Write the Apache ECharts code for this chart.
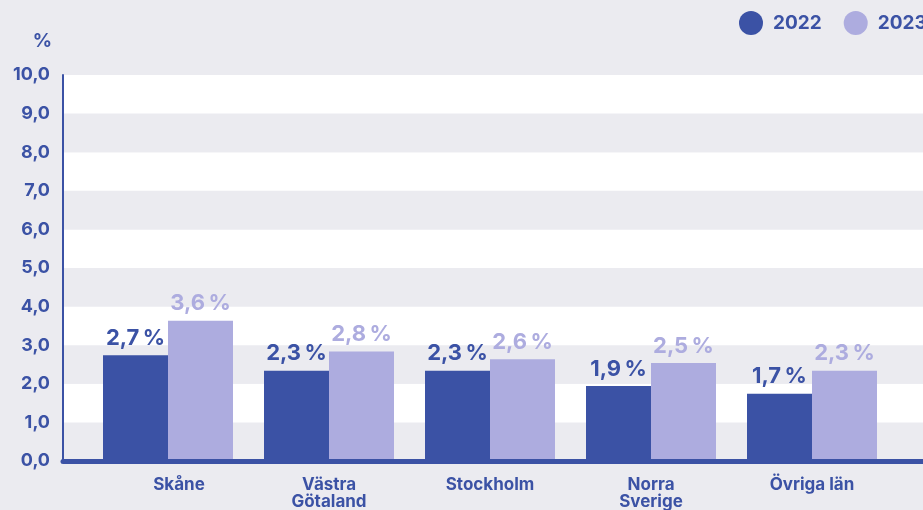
<!DOCTYPE html>
<html>
<head>
<meta charset="utf-8">
<script src="https://cdn.jsdelivr.net/npm/echarts@6/dist/echarts.min.js"></script>
<style>
  html, body { margin: 0; padding: 0; background: #ebebf0; }
  #chart { width: 923px; height: 510px; }
</style>
</head>
<body>
<div id="chart"></div>
<script>
const categories = ['Skåne', 'Västra\nGötaland', 'Stockholm', 'Norra\nSverige', 'Övriga län'];
const years = ['2022', '2023'];
const values2022 = [2.7, 2.3, 2.3, 1.9, 1.7];
const values2023 = [3.6, 2.8, 2.6, 2.5, 2.3];
const yTicks = [0, 1, 2, 3, 4, 5, 6, 7, 8, 9, 10];

const dark = '#3b52a5';
const light = '#adacdf';
const font = 'Inter';

const fmt = v => v.toFixed(1).replace('.', ',');

const chart = echarts.init(document.getElementById('chart'));

function barSeries(name, data, color) {
  return {
    name: name,
    type: 'bar',
    xAxisIndex: 1,
    yAxisIndex: 1,
    barWidth: 65,
    barGap: '0%',
    itemStyle: { color: color },
    label: {
      show: true,
      position: 'top',
      distance: 6,
      color: color,
      fontFamily: font,
      fontSize: 22,
      fontWeight: 700,
      formatter: p => fmt(p.value) + '\u2009%'
    },
    data: data
  };
}

chart.setOption({
  backgroundColor: '#ebebf0',
  animation: false,
  legend: {
    orient: 'horizontal',
    left: 739,
    top: 11,
    width: 300,
    padding: 0,
    itemWidth: 24,
    itemHeight: 24,
    itemGap: 22,
    icon: 'circle',
    data: years,
    textStyle: {
      color: dark,
      fontFamily: font,
      fontSize: 19,
      fontWeight: 700,
      padding: [0, 0, 0, 5]
    }
  },
  grid: [
    { left: 63, right: 0, top: 75, bottom: 49 },
    { left: 87.5, right: 30.5, top: 75, bottom: 49 }
  ],
  xAxis: [
    {
      type: 'value',
      gridIndex: 0,
      min: 0,
      max: 1,
      z: 10,
      axisLine: { show: true, lineStyle: { color: dark, width: 5 } },
      axisTick: { show: false },
      axisLabel: { show: false },
      splitLine: { show: false }
    },
    {
      type: 'category',
      gridIndex: 1,
      data: categories,
      axisLine: { show: false },
      axisTick: { show: false },
      axisLabel: {
        margin: 17,
        color: dark,
        fontFamily: font,
        fontSize: 17,
        fontWeight: 700,
        lineHeight: 17,
        formatter: (v, i) => i === 0 ? '{s|' + v + '}' : v,
        rich: {
          s: {
            padding: [0, 0, 0, 22],
            color: dark,
            fontFamily: font,
            fontSize: 17,
            fontWeight: 700,
            lineHeight: 17
          }
        }
      }
    }
  ],
  yAxis: [
    {
      type: 'value',
      gridIndex: 0,
      min: yTicks[0],
      max: yTicks[yTicks.length - 1],
      interval: 1,
      name: '%',
      nameLocation: 'end',
      nameGap: 24,
      nameTextStyle: {
        color: dark,
        fontFamily: font,
        fontSize: 19,
        fontWeight: 700,
        align: 'right',
        padding: [0, 11, 0, 0]
      },
      axisLine: { show: true, lineStyle: { color: dark, width: 2 } },
      axisTick: { show: false },
      axisLabel: {
        margin: 13,
        color: dark,
        fontFamily: font,
        fontSize: 18,
        fontWeight: 700,
        padding: [0, 0, 12, 0],
        formatter: fmt
      },
      splitLine: { show: false },
      splitArea: { show: true, areaStyle: { color: ['#ebebf0', '#ffffff'] } }
    },
    {
      type: 'value',
      gridIndex: 1,
      min: yTicks[0],
      max: yTicks[yTicks.length - 1],
      interval: 1,
      show: false
    }
  ],
  series: [
    barSeries(years[0], values2022, dark),
    barSeries(years[1], values2023, light)
  ]
});
</script>
</body>
</html>
